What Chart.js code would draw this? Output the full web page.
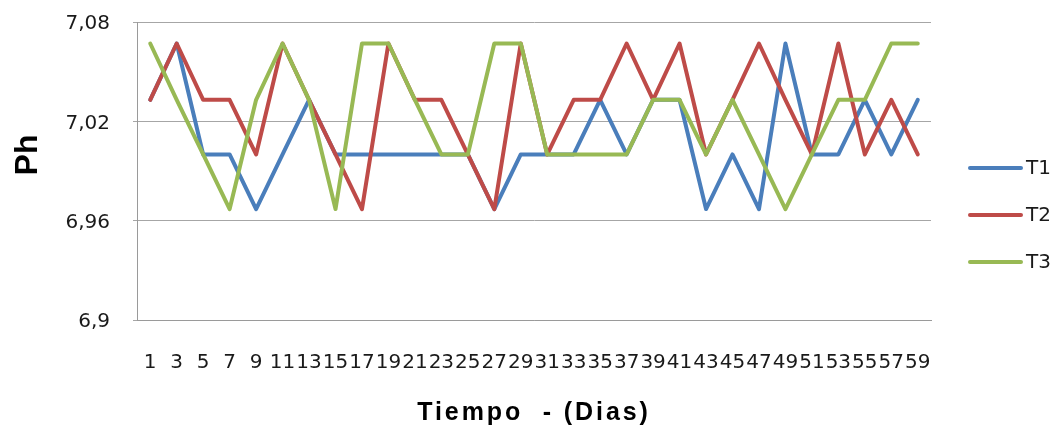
<!DOCTYPE html>
<html>
<head>
<meta charset="utf-8">
<script src="https://cdn.jsdelivr.net/npm/chart.js@4/dist/chart.umd.min.js"></script>
<style>
  html, body { margin: 0; padding: 0; background: #ffffff; }
  #wrap { width: 1062px; height: 428px; position: relative; }
</style>
</head>
<body>
<div id="wrap"><canvas id="c" width="1062" height="428"></canvas></div>
<script>
// Days of measurement
const dias = [1, 3, 5, 7, 9, 11, 13, 15, 17, 19, 21, 23, 25, 27, 29,
              31, 33, 35, 37, 39, 41, 43, 45, 47, 49, 51, 53, 55, 57, 59];

// pH readings per treatment
const t1 = [7.033, 7.067, 7.0, 7.0, 6.967, 7.0, 7.033, 7.0, 7.0, 7.0,
            7.0, 7.0, 7.0, 6.967, 7.0, 7.0, 7.0, 7.033, 7.0, 7.033,
            7.033, 6.967, 7.0, 6.967, 7.067, 7.0, 7.0, 7.033, 7.0, 7.033];
const t2 = [7.033, 7.067, 7.033, 7.033, 7.0, 7.067, 7.033, 7.0, 6.967, 7.067,
            7.033, 7.033, 7.0, 6.967, 7.067, 7.0, 7.033, 7.033, 7.067, 7.033,
            7.067, 7.0, 7.033, 7.067, 7.033, 7.0, 7.067, 7.0, 7.033, 7.0];
const t3 = [7.067, 7.033, 7.0, 6.967, 7.033, 7.067, 7.033, 6.967, 7.067, 7.067,
            7.033, 7.0, 7.0, 7.067, 7.067, 7.0, 7.0, 7.0, 7.0, 7.033,
            7.033, 7.0, 7.033, 7.0, 6.967, 7.0, 7.033, 7.033, 7.067, 7.067];

// Y axis tick values
const yTicks = [6.9, 6.96, 7.02, 7.08];

const seriesNames = ['T1', 'T2', 'T3'];
const seriesColors = ['#4A7EBB', '#BE4B48', '#98B954'];
const seriesData = [t1, t2, t3];

const tickFont = { family: 'DejaVu Sans', size: 20 };
const textColor = '#1a1a1a';

function fmtComma(v) {
  return Number(v.toFixed(2)).toString().replace('.', ',');
}

// Axis titles and a right-side legend drawn on the canvas
const decorations = {
  id: 'decorations',
  afterDraw(chart) {
    const ctx = chart.ctx;
    const area = chart.chartArea;
    ctx.save();
    ctx.fillStyle = '#000';

    // Y title
    ctx.save();
    ctx.translate(37, 155);
    ctx.rotate(-Math.PI / 2);
    ctx.font = 'bold 32px "Liberation Sans"';
    ctx.textAlign = 'center';
    ctx.textBaseline = 'alphabetic';
    ctx.fillText('Ph', 0, 0);
    ctx.restore();

    // X title
    ctx.save();
    ctx.font = 'bold 25px "Liberation Sans"';
    ctx.letterSpacing = '2.9px';
    ctx.textAlign = 'center';
    ctx.textBaseline = 'alphabetic';
    ctx.fillText('Tiempo  - (Dias)', (area.left + area.right) / 2, 420);
    ctx.restore();

    // Legend
    chart.data.datasets.forEach((ds, i) => {
      const y = 168 + i * 47;
      ctx.beginPath();
      ctx.strokeStyle = ds.borderColor;
      ctx.lineWidth = 4;
      ctx.lineCap = 'round';
      ctx.moveTo(970, y);
      ctx.lineTo(1021, y);
      ctx.stroke();
      ctx.font = '20px "DejaVu Sans"';
      ctx.fillStyle = textColor;
      ctx.textAlign = 'left';
      ctx.textBaseline = 'middle';
      ctx.fillText(ds.label, 1026, y + 1);
    });
    ctx.restore();
  }
};

new Chart(document.getElementById('c'), {
  type: 'line',
  data: {
    labels: dias.map(String),
    datasets: seriesNames.map((name, i) => ({
      label: name,
      data: seriesData[i],
      // later series are painted over earlier ones
      order: seriesNames.length - i,
      borderColor: seriesColors[i],
      backgroundColor: seriesColors[i],
      borderWidth: 4,
      pointRadius: 0,
      pointHoverRadius: 0,
      tension: 0,
      borderJoinStyle: 'round',
      borderCapStyle: 'round',
      fill: false
    }))
  },
  options: {
    responsive: false,
    animation: false,
    devicePixelRatio: 1,
    layout: { padding: { top: 22, right: 131, left: 0, bottom: 0 } },
    plugins: {
      legend: { display: false },
      tooltip: { enabled: false },
      title: { display: false }
    },
    scales: {
      x: {
        type: 'category',
        offset: true,
        grid: { display: false, drawTicks: false },
        border: { display: true, color: '#9a9a9a', width: 1 },
        ticks: {
          autoSkip: false,
          maxRotation: 0,
          minRotation: 0,
          padding: 31,
          color: textColor,
          font: tickFont
        },
        afterFit(scale) { scale.height = 108; }
      },
      y: {
        min: 6.9,
        max: 7.08,
        afterBuildTicks(scale) {
          scale.ticks = yTicks.map(v => ({ value: v }));
        },
        grid: {
          color: '#a6a6a6',
          lineWidth: 1,
          drawTicks: true,
          tickLength: 4
        },
        border: { display: true, color: '#9a9a9a', width: 1 },
        ticks: {
          padding: 23,
          labelOffset: 2,
          color: textColor,
          font: tickFont,
          callback: (v) => fmtComma(v)
        },
        afterFit(scale) {
          scale.width = 137;
          scale.paddingTop = 0;
          scale.paddingBottom = 0;
        }
      }
    }
  },
  plugins: [decorations]
});
</script>
</body>
</html>
